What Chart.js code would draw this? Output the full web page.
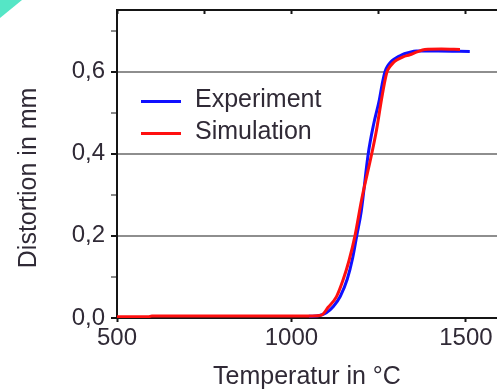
<!DOCTYPE html>
<html>
<head>
<meta charset="utf-8">
<script src="https://cdn.jsdelivr.net/npm/chart.js@4"></script>
<style>
  body { margin: 0; background: #fff; }
  #wrap { position: relative; width: 497px; height: 392px; overflow: hidden; }
  #corner { position: absolute; left: 0; top: 0; width: 0; height: 0;
            border-top: 18px solid #55e6c6; border-right: 22px solid transparent; }
  #legend { position: absolute; left: 141px; top: 82px;
            font-family: "Liberation Sans", Arial, sans-serif; font-size: 25px; color: #302a36; }
  .row { display: flex; align-items: center; height: 32px; }
  .swatch { width: 40px; height: 3px; margin-right: 14px; position: relative; top: 3px; }
</style>
</head>
<body>
<div id="wrap">
  <canvas id="chart" width="497" height="392"></canvas>
  <div id="corner"></div>
  <div id="legend"></div>
</div>
<script>
// Experiment (blue)
const expTemp = [1050, 1080, 1100, 1120, 1140, 1160, 1175, 1187, 1200, 1220, 1235, 1252, 1260, 1268, 1276, 1285, 1295, 1305, 1316, 1335, 1358, 1420, 1511];
const expDist = [0.004, 0.006, 0.013, 0.028, 0.053, 0.095, 0.145, 0.2, 0.26, 0.4, 0.47, 0.532, 0.57, 0.6, 0.614, 0.624, 0.631, 0.636, 0.641, 0.646, 0.65, 0.65, 0.649];

// Simulation (red)
const simTemp = [500, 590, 600, 1000, 1060, 1086, 1105, 1129, 1148, 1165, 1182, 1201, 1230, 1244, 1258, 1266, 1274, 1282, 1292, 1303, 1320, 1339, 1360, 1382, 1430, 1483];
const simDist = [0.003, 0.003, 0.005, 0.005, 0.005, 0.007, 0.026, 0.052, 0.093, 0.14, 0.2, 0.288, 0.4, 0.459, 0.532, 0.57, 0.6, 0.612, 0.622, 0.629, 0.636, 0.641, 0.648, 0.654, 0.655, 0.654];

const xTicks = [500, 1000, 1500];
const xTopTicks = [500, 750, 1000, 1250, 1500];
const yTicks = [0, 0.2, 0.4, 0.6];

const axisColor = '#151515';
const textColor = '#302a36';
const fontFamily = '"Liberation Sans", Arial, sans-serif';

Chart.defaults.font.family = fontFamily;
Chart.defaults.color = textColor;

const isMajorY = (v) => yTicks.some(t => Math.abs(t - v) < 1e-6);

const ctx = document.getElementById('chart').getContext('2d');
const chart = new Chart(ctx, {
    type: 'line',
    data: {
        datasets: [
            {
                label: 'Experiment',
                data: expTemp.map((t, i) => ({ x: t, y: expDist[i] })),
                borderColor: '#1010ff',
                backgroundColor: '#1010ff',
                borderWidth: 3,
                pointRadius: 0,
                cubicInterpolationMode: 'monotone',
                order: 1,
            },
            {
                label: 'Simulation',
                data: simTemp.map((t, i) => ({ x: t, y: simDist[i] })),
                borderColor: '#ff1010',
                backgroundColor: '#ff1010',
                borderWidth: 3,
                pointRadius: 0,
                cubicInterpolationMode: 'monotone',
                order: 0,
            },
        ],
    },
    options: {
        responsive: false,
        animation: false,
        layout: { padding: { top: 10, left: 0, right: 0, bottom: 0 } },
        plugins: {
            legend: { display: false },
            tooltip: { enabled: false },
        },
        scales: {
            x: {
                type: 'linear',
                position: 'bottom',
                min: 500,
                max: 1589,
                afterBuildTicks: (s) => { s.ticks = xTicks.map(v => ({ value: v })); },
                afterFit: (s) => { s.height = 74; s.paddingLeft = 0; s.paddingRight = 0; },
                ticks: { font: { size: 24 }, padding: 2, maxRotation: 0, color: textColor, callback: (v) => String(v) },
                grid: { drawOnChartArea: false, drawTicks: true, tickLength: 4, tickColor: axisColor, tickWidth: 2 },
                border: { display: true, color: axisColor, width: 2 },
                title: { display: true, text: 'Temperatur in °C', font: { size: 25 }, padding: { top: 0, bottom: 0 }, color: textColor },
            },
            x2: {
                type: 'linear',
                position: 'top',
                min: 500,
                max: 1589,
                afterBuildTicks: (s) => { s.ticks = xTopTicks.map(v => ({ value: v })); },
                afterFit: (s) => { s.height = 0; s.paddingLeft = 0; s.paddingRight = 0; },
                ticks: { display: false },
                grid: { drawOnChartArea: false, drawTicks: true, tickLength: -4, tickColor: axisColor, tickWidth: 2 },
                border: { display: true, color: axisColor, width: 2 },
            },
            y: {
                min: 0,
                max: 0.75,
                afterFit: (s) => { s.width = 117; s.paddingTop = 0; s.paddingBottom = 0; },
                ticks: {
                    stepSize: 0.1,
                    includeBounds: false,
                    padding: 6,
                    font: { size: 24 },
                    color: textColor,
                    callback: (v) => isMajorY(v) ? v.toFixed(1).replace('.', ',') : '',
                },
                grid: {
                    color: (c) => (c.tick && isMajorY(c.tick.value) && c.tick.value > 0) ? '#8e8e8e' : 'rgba(0,0,0,0)',
                    lineWidth: 2,
                    tickLength: 6,
                    tickColor: axisColor,
                    tickWidth: (c) => (c.tick && isMajorY(c.tick.value)) ? 2 : 1,
                },
                border: { display: true, color: axisColor, width: 2 },
                title: { display: true, text: 'Distortion in mm    ', font: { size: 25 }, padding: { top: 14, bottom: 0 }, color: textColor },
            },
        },
    },
});

// html legend built from the datasets
const legendEl = document.getElementById('legend');
chart.data.datasets.forEach((ds) => {
    const row = document.createElement('div');
    row.className = 'row';
    const sw = document.createElement('span');
    sw.className = 'swatch';
    sw.style.background = ds.borderColor;
    const label = document.createElement('span');
    label.textContent = ds.label;
    row.appendChild(sw);
    row.appendChild(label);
    legendEl.appendChild(row);
});
</script>
</body>
</html>
